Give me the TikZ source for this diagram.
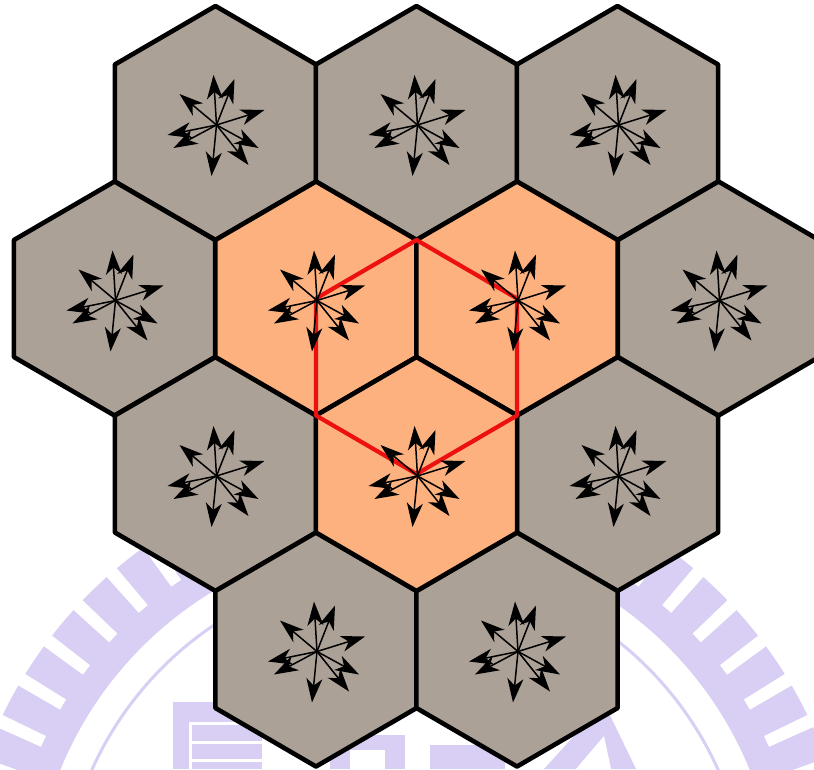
\documentclass[tikz,border=0pt]{standalone}
\usetikzlibrary{arrows.meta,calc}
\definecolor{cellgray}{RGB}{171,161,151}
\definecolor{cellorange}{RGB}{253,177,126}
\definecolor{wmark}{RGB}{217,206,244}
\definecolor{redpath}{RGB}{236,16,16}
\newcommand\hexcell[4]{%
  \coordinate (#1) at (#2,#3);
  \filldraw[cell,fill=#4] ($(#1)+(0,-117)$) -- ++(100.6,58.5) -- ++(0,117)
    -- ++(-100.6,58.5) -- ++(-100.6,-58.5) -- ++(0,-117) -- cycle;
}
\newcommand\burst[1]{%
  \coordinate (#1s) at ($(#1)+(1,2)$);
  \foreach \dx/\dy in {-3/-50, 18/-46, -37/-31, 48/-15, -49/10, -43/23, -5/51, 42/23, 32/40}
    \draw[ray] (#1s) -- ++(\dx,\dy);
}
\begin{document}
\begin{tikzpicture}[x=1pt,y=-1pt,
  cell/.style={draw=black,line width=4.6pt,line join=round},
  ray/.style={line width=1.5pt,-{Stealth[length=24pt,width=16pt,inset=7pt]}},
  cellring/.style={draw=redpath,line width=4.2pt,line join=round}]
\useasboundingbox (0,0) rectangle (814,769);
\clip (0,0) rectangle (814,769);
\fill[white] (0,0) rectangle (814,769);
% watermark
\coordinate (W) at (405,910);
\fill[wmark,even odd rule] (W) circle[radius=447] (W) circle[radius=372];
\foreach \k in {0,...,15}{
  \foreach \s in {1,-1}{
    \pgfmathsetmacro\a{-90+\s*(5+6*\k)}
    \fill[white] ($(W)+(\a-0.85:399)$) -- ($(W)+(\a-0.85:460)$)
      -- ($(W)+(\a+0.85:460)$) -- ($(W)+(\a+0.85:399)$) -- cycle;
  }
}
\draw[wmark,line width=3pt] (W) circle[radius=343];
\fill[wmark] (173,702) rectangle (262,769);
\fill[white] (190,722) rectangle (262,724.5);
\fill[white] (190,741) rectangle (262,743.5);
\fill[white] (190,759) rectangle (262,761.5);
\fill[white] (189,722) rectangle (191.5,769);
\fill[wmark] (330,735) rectangle (405,769);
\fill[white] (350,750) rectangle (385,769);
\fill[wmark] (430,745) rectangle (505,769);
\fill[wmark] (544,769) -- (604,703) -- (636,769) -- cycle;
\fill[white] (576,769) -- (604,736) -- (611,769) -- cycle;
% cells
\hexcell{g1}{215.5}{123}{cellgray}
\hexcell{g2}{416.5}{123}{cellgray}
\hexcell{g3}{617.5}{123}{cellgray}
\hexcell{g4}{114.5}{298.5}{cellgray}
\hexcell{g5}{718.5}{298.5}{cellgray}
\hexcell{g6}{215.5}{474}{cellgray}
\hexcell{g7}{617.5}{474}{cellgray}
\hexcell{g8}{316}{649.5}{cellgray}
\hexcell{g9}{517}{649.5}{cellgray}
\hexcell{o1}{316}{298.5}{cellorange}
\hexcell{o2}{517}{298.5}{cellorange}
\hexcell{o3}{416.5}{474}{cellorange}
% red cluster outline
\coordinate (rtop) at (416.5,240);
\coordinate (rlr) at (517,415.5);
\coordinate (rll) at (316,415.5);
\draw[cellring] (rtop) -- (o2) -- (rlr) -- (o3) -- (rll) -- (o1) -- cycle;
% antenna bursts
\foreach \c in {g1,g2,g3,g4,g5,g6,g7,g8,g9,o1,o2,o3}{\burst{\c}}
\end{tikzpicture}
\end{document}
